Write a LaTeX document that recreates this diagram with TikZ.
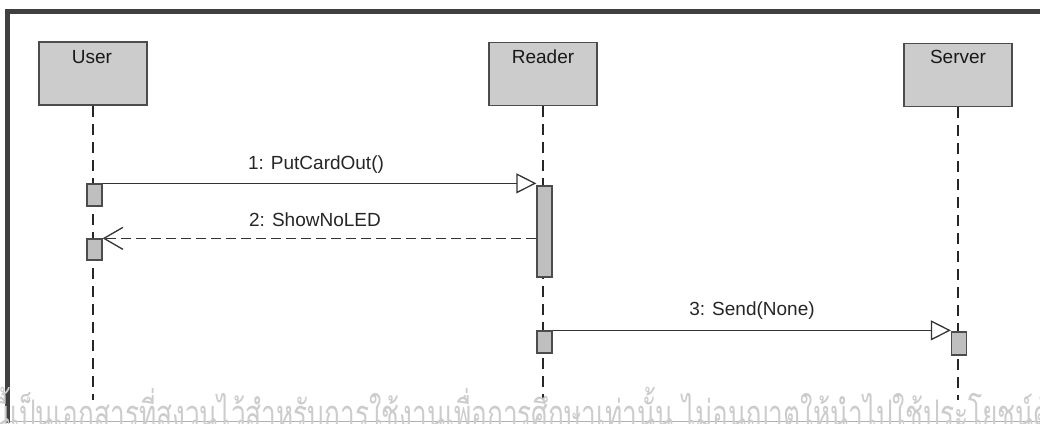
\documentclass[tikz,border=0pt]{standalone}
\usepackage{fontspec}
\setmainfont{Liberation Sans}
\newfontfamily\thaifont[Script=Thai]{Loma}
\usetikzlibrary{arrows.meta}
\begin{document}
\begin{tikzpicture}[x=1pt,y=-1pt,
  obj/.style={draw=black!70, line width=1.6pt, fill=black!20, minimum width=108pt, minimum height=63pt, inner sep=0pt},
  act/.style={draw=black!70, line width=1.3pt, fill=black!25, minimum width=15pt, inner sep=0pt},
  life/.style={black!85, line width=1.8pt, dash pattern=on 11pt off 7pt},
  msg/.style={black!80, line width=1.3pt, -{Triangle[open, length=20pt, width=20pt, line width=1.3pt, fill=white]}},
  ret/.style={black!80, line width=1.3pt, dash pattern=on 10pt off 5pt, -{Straight Barb[length=19pt, width=22pt, line width=1.3pt]}},
  lbl/.style={font=\fontsize{19}{22}\selectfont, text=black!85, inner sep=0pt},
  ttl/.style={font=\fontsize{19}{22}\selectfont, text=black!90, inner sep=0pt},
]
\clip (0,0) rectangle (1040,423);
\fill[white] (0,0) rectangle (1040,423);

% frame
\fill[black!75] (5,9) rectangle (10,423);
\fill[black!75] (5,9) rectangle (1040,14);
\draw[black!30, line width=1pt] (10,421) -- (1040,421);

% objects
\node[obj] (user) at (93,73.5) {};
\node[obj] (reader) at (543,74) {};
\node[obj] (server) at (958,75) {};
\node[ttl] (userT) at (92,57) {User};
\node[ttl] (readerT) at (543,57) {Reader};
\node[ttl] (serverT) at (958,57) {Server};

% lifelines
\coordinate (userE) at (93,400);
\coordinate (readerE) at (543,400);
\coordinate (serverE) at (958,400);
\draw[life] (user.south) -- (userE);
\draw[life] (reader.south) -- (readerE);
\draw[life] (server.south) -- (serverE);

% activations
\node[act, minimum height=22pt] (a1) at (94.5,195) {};
\node[act, minimum height=21pt] (a2) at (94.5,249.5) {};
\node[act, minimum height=91pt] (r1) at (544.5,231.5) {};
\node[act, minimum height=22pt] (r2) at (544.5,342) {};
\node[act, minimum height=23pt] (s1) at (959,343.5) {};

% messages
\draw[msg] (a1.north east) -- (a1.north east -| r1.west);
\draw[ret] (r1.west |- a2.north) -- (a2.north east);
\draw[msg] (r2.north east) -- (r2.north east -| s1.west);

\node[lbl] (l1) at (316,165) {1: PutCardOut()};
\node[lbl] (l2) at (315,220) {2: ShowNoLED};
\node[lbl] (l3) at (752,311) {3: Send(None)};

% watermark
\node[anchor=base west, text=black!20, inner sep=0pt, font=\thaifont\fontsize{38}{44}\selectfont] (wm) at (-8,427) {\scalebox{0.69}[1]{นี้เป็นเอกสารที่สงวนไว้สำหรับการใช้งานเพื่อการศึกษาเท่านั้น ไม่อนุญาตให้นำไปใช้ประโยชน์ด้านอื่น}};
\end{tikzpicture}
\end{document}
